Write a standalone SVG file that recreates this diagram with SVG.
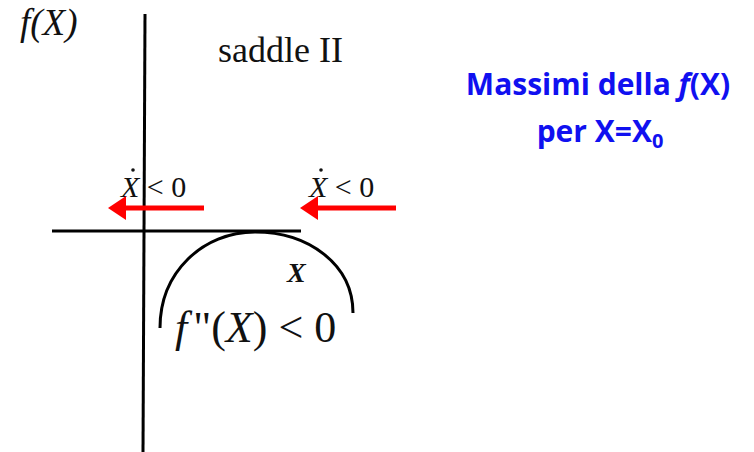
<svg xmlns="http://www.w3.org/2000/svg" width="754" height="452" viewBox="0 0 754 452">
<style>
.ax{stroke:#000;stroke-width:3;fill:none}
.serif{font-family:"Liberation Serif","DejaVu Serif",serif;fill:#111}
.blue{font-family:"Open Sans","Noto Sans",sans-serif;font-weight:bold;fill:#1010f0;font-size:30px;text-anchor:middle}
.arr{stroke:#f00;stroke-width:5;fill:none}
</style>
<rect width="754" height="452" fill="#fff"/>
<g id="axes">
<line class="ax" x1="145" y1="14" x2="143" y2="452"/>
<line class="ax" x1="52" y1="231" x2="301" y2="231"/>
<path class="ax" d="M160,328 C160,272 203,232 255,232 C308,232 353,264 353,313"/>
</g>
<g id="labels">
<text class="serif" x="20" y="35" font-size="37" font-style="italic">f(X)</text>
<text class="serif" x="218" y="62" font-size="36">saddle II</text>
<text class="serif" x="287" y="282" font-size="28" font-style="italic" font-weight="bold">X</text>
<text class="serif" x="175" y="342" font-size="44"><tspan font-style="italic">f</tspan><tspan dx="6">"(</tspan><tspan font-style="italic">X</tspan>) &lt; 0</text>
<g id="xdot-left">
<text class="serif" x="121" y="197" font-size="30"><tspan font-style="italic">X</tspan> &lt; 0</text>
<circle cx="133" cy="170" r="1.8" fill="#111"/>
</g>
<g id="xdot-right">
<text class="serif" x="309" y="197" font-size="30"><tspan font-style="italic">X</tspan> &lt; 0</text>
<circle cx="321" cy="170" r="1.8" fill="#111"/>
</g>
</g>
<g id="connectors">
<path d="M204,208 L124,208" class="arr"/>
<path d="M108,208 L126,196 L126,220 Z" fill="#f00"/>
<path d="M396,208 L316,208" class="arr"/>
<path d="M300,208 L318,196 L318,220 Z" fill="#f00"/>
</g>
<g id="title">
<text class="blue" x="598" y="95">Massimi della <tspan font-style="italic">f</tspan>(X)</text>
<text class="blue" x="600" y="142">per X=X<tspan font-size="20" dy="6">0</tspan></text>
</g>
</svg>
